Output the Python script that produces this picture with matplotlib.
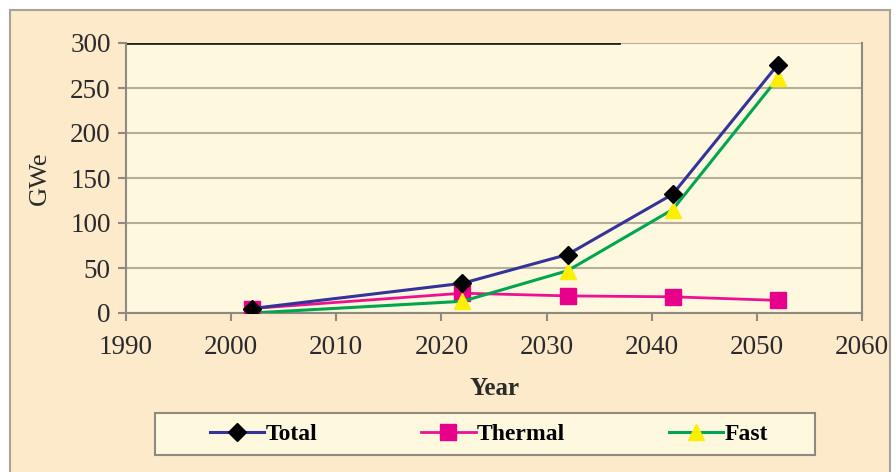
import matplotlib
matplotlib.use("Agg")
import matplotlib.pyplot as plt
from matplotlib.patches import Rectangle

years = [2002, 2022, 2032, 2042, 2052]
total = [5, 33, 65, 132, 276]
thermal = [5, 22, 19, 18, 14]
fast = [0, 13, 47, 115, 261]

plt.rcParams['font.family'] = ['Liberation Serif', 'DejaVu Serif']

fig = plt.figure(figsize=(8.96, 4.72), dpi=100)
fig.patch.set_facecolor('white')
# outer chart frame
fig.patches.append(Rectangle((10/896, -0.01), 880/896, 1 - 10/472 + 0.01,
                             transform=fig.transFigure, facecolor='#FCEACB',
                             edgecolor='#A8A29A', linewidth=1.5, zorder=-5))
# legend box
fig.patches.append(Rectangle((155/896, 17/472), 660/896, 42/472,
                             transform=fig.transFigure, facecolor='#FEF8DE',
                             edgecolor='#8E8A80', linewidth=1.5, zorder=-4))

ax = fig.add_axes([126/896, (472-313)/472, 736/896, 270/472])
ax.set_zorder(2)
ax.set_facecolor('#FEF8DE')

ax.plot(years, total, color='#333399', lw=2.2, marker='D', ms=9,
        mfc='black', mec='black', label='Total', zorder=4)
ax.plot(years, thermal, color='#EE1090', lw=2.0, marker='s', ms=12,
        mfc='#E6008A', mec='#E6008A', label='Thermal', zorder=3)
ax.plot(years, fast, color='#00A550', lw=2.2, marker='^', ms=11,
        mfc='#FFEE00', mec='#FFEE00', label='Fast', zorder=3)

ax.set_xlim(1990, 2060)
ax.set_ylim(0, 300)
ax.set_xticks(range(1990, 2061, 10))
ax.set_yticks(range(0, 301, 50))
ax.yaxis.grid(True, color='#B5AE98', lw=1.5)
ax.set_axisbelow(True)
ax.axhline(300, xmin=0, xmax=0.67, color='#222222', lw=2.0, zorder=2)

for s in ['left', 'bottom', 'right']:
    ax.spines[s].set_color('#8E8A80')
    ax.spines[s].set_linewidth(1.5)
ax.spines['top'].set_visible(False)
ax.tick_params(axis='both', colors='#8E8A80', width=1.5, length=6,
               labelsize=19.5, labelcolor='#2A2A2A')
ax.tick_params(axis='y', pad=5)
ax.tick_params(axis='x', pad=10)

ax.set_ylabel('GWe', fontsize=19, color='#2A2A2A', labelpad=14)
ax.set_xlabel('Year', fontsize=18, fontweight='bold', color='#2A2A2A', labelpad=12)

leg = fig.legend(loc='center', bbox_to_anchor=(489/896, 38/472),
                 ncol=3, frameon=False,
                 prop={'weight': 'bold', 'size': 17}, handlelength=2.3,
                 handletextpad=0.05, columnspacing=4.4)

fig.savefig('out.png', dpi=100)
